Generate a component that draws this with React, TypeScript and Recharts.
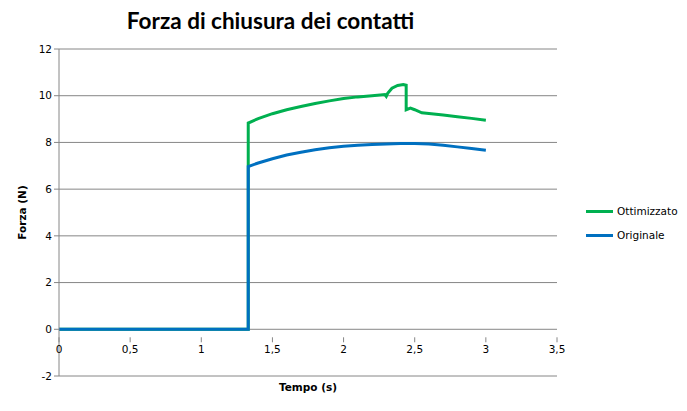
import { LineChart, Line, XAxis, YAxis, CartesianGrid } from 'recharts';

// tempo (s) e forza (N)
const tempoOttimizzato = [
  0, 1.33, 1.33, 1.4, 1.5, 1.6, 1.7, 1.8, 1.9, 2.0, 2.1, 2.2, 2.29, 2.3, 2.31, 2.34,
  2.38, 2.42, 2.44, 2.44, 2.47, 2.5, 2.55, 2.6, 2.7, 2.8, 2.9, 3.0,
];
const forzaOttimizzato = [
  0, 0, 8.83, 9.02, 9.23, 9.4, 9.54, 9.67, 9.78, 9.88, 9.95, 10.0, 10.05, 9.97, 10.1, 10.32,
  10.44, 10.48, 10.45, 9.4, 9.47, 9.4, 9.27, 9.24, 9.17, 9.1, 9.03, 8.95,
];

const tempoOriginale = [
  0, 1.33, 1.33, 1.4, 1.5, 1.6, 1.7, 1.8, 1.9, 2.0, 2.1, 2.2, 2.3, 2.4, 2.5, 2.6, 2.7, 2.8,
  2.9, 3.0,
];
const forzaOriginale = [
  0, 0, 6.97, 7.12, 7.3, 7.46, 7.58, 7.69, 7.77, 7.84, 7.88, 7.91, 7.93, 7.95, 7.95, 7.93,
  7.88, 7.81, 7.74, 7.67,
];

const seriesNames = ['Ottimizzato', 'Originale'];

const xTicks = [0, 0.5, 1, 1.5, 2, 2.5, 3, 3.5];
const yTicks = [-2, 0, 2, 4, 6, 8, 10, 12];

const Y_MIN = -2;
const Y_MAX = 12;
const W = 687;
const H = 411;
const X_AXIS_H = 35;
const MARGIN = { top: 49, right: 130, bottom: 0, left: 0 };
const PLOT_H = H - MARGIN.top - MARGIN.bottom - X_AXIS_H;
// distanza dal fondo del grafico alla linea y = 0 (l'asse X incrocia a 0)
const ZERO_UP = (PLOT_H * (0 - Y_MIN)) / (Y_MAX - Y_MIN);

const GREEN = '#00B050';
const BLUE = '#0070C0';
const GRID = '#868686';
const TICK_FONT = '"DejaVu Sans", sans-serif';

const ottimizzato = tempoOttimizzato.map((t, i) => ({ t, v: forzaOttimizzato[i] }));
const originale = tempoOriginale.map((t, i) => ({ t, v: forzaOriginale[i] }));

const fmt = (v: number) => String(v).replace('.', ',');

function XTick(props: any) {
  const { x, y, payload } = props;
  // y è il fondo del grafico: saliamo fino a y = 0
  const y0 = y - ZERO_UP;
  return (
    <g>
      <line x1={x} x2={x} y1={y0} y2={y0 + 5} stroke={GRID} />
      <text x={x} y={y0 + 16} textAnchor="middle" fontSize={10.5} fontFamily={TICK_FONT} fill="#000">
        {fmt(payload.value)}
      </text>
    </g>
  );
}

function LegendBox() {
  const colors = [GREEN, BLUE];
  return (
    <div style={{ position: 'absolute', left: 586, top: 199 }}>
      {seriesNames.map((name, i) => (
        <div key={name} style={{ display: 'flex', alignItems: 'center', height: 24 }}>
          <div style={{ width: 27, height: 3, background: colors[i], marginRight: 4 }} />
          <span style={{ fontFamily: TICK_FONT, fontSize: 10.5, color: '#000' }}>{name}</span>
        </div>
      ))}
    </div>
  );
}

export default function App() {
  return (
    <div style={{ position: 'absolute', left: 0, top: 0, width: W, height: H, background: '#fff' }}>
      <div
        style={{
          position: 'absolute',
          left: 0,
          width: 541,
          top: 7,
          textAlign: 'center',
          fontFamily: 'Lato, sans-serif',
          fontWeight: 700,
          fontSize: 22.5,
          color: '#000',
        }}
      >
        Forza di chiusura dei contatti
      </div>
      <LineChart width={W} height={H} margin={MARGIN}>
        <CartesianGrid vertical={false} stroke={GRID} horizontalValues={yTicks} />
        <XAxis
          dataKey="t"
          type="number"
          domain={[0, 3.5]}
          ticks={xTicks}
          axisLine={false}
          tickLine={false}
          tick={<XTick />}
          allowDuplicatedCategory={false}
          label={{
            value: 'Tempo (s)',
            position: 'insideTop',
            offset: 8,
            fontSize: 10.5,
            fontWeight: 700,
            fontFamily: TICK_FONT,
            fill: '#000',
          }}
          height={X_AXIS_H}
        />
        <YAxis
          type="number"
          domain={[Y_MIN, Y_MAX]}
          ticks={yTicks}
          width={59}
          stroke={GRID}
          tickSize={5}
          tick={{ fontSize: 10.5, fontFamily: TICK_FONT, fill: '#000' }}
          tickFormatter={fmt}
          label={{
            value: 'Forza (N)',
            angle: -90,
            position: 'insideLeft',
            offset: 22,
            fontSize: 10.5,
            fontWeight: 700,
            fontFamily: TICK_FONT,
            fill: '#000',
            style: { textAnchor: 'middle' },
          }}
        />
        <Line
          data={ottimizzato}
          dataKey="v"
          name={seriesNames[0]}
          stroke={GREEN}
          strokeWidth={3}
          dot={false}
          isAnimationActive={false}
        />
        <Line
          data={originale}
          dataKey="v"
          name={seriesNames[1]}
          stroke={BLUE}
          strokeWidth={3}
          dot={false}
          isAnimationActive={false}
        />
      </LineChart>
      <LegendBox />
    </div>
  );
}
